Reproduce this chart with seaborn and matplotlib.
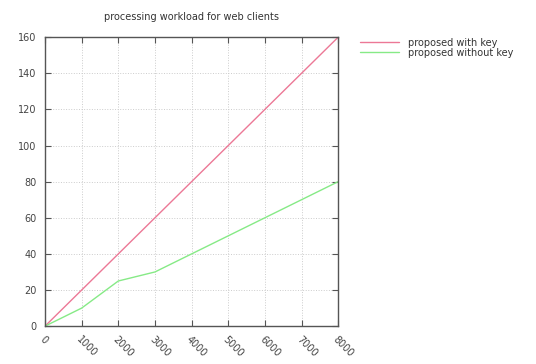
import matplotlib
matplotlib.use("Agg")
import matplotlib.pyplot as plt
import seaborn as sns
import pandas as pd

# Number of web clients vs. processing workload
clients = [0, 1000, 2000, 3000, 4000, 5000, 6000, 7000, 8000]
with_key = [0, 20, 40, 60, 80, 100, 120, 140, 160]
without_key = [0, 10, 25, 30, 40, 50, 60, 70, 80]

series_names = ["proposed with key", "proposed without key"]
x_ticks = [0, 1000, 2000, 3000, 4000, 5000, 6000, 7000, 8000]
y_ticks = [0, 20, 40, 60, 80, 100, 120, 140, 160]

df = pd.concat([
    pd.DataFrame({"clients": clients, "load": with_key, "series": series_names[0]}),
    pd.DataFrame({"clients": clients, "load": without_key, "series": series_names[1]}),
])

sns.set_style("white")
plt.rcParams["font.family"] = ["DejaVu Sans"]

fig = plt.figure(figsize=(5.36, 3.64), dpi=100)
ax = fig.add_axes([0.084, 0.104, 0.547, 0.794])

palette = {series_names[0]: "#ec7896", series_names[1]: "#86ea86"}
sns.lineplot(data=df, x="clients", y="load", hue="series", palette=palette,
             linewidth=1.0, ax=ax, legend=False)

ax.set_xlim(0, 8000)
ax.set_ylim(0, 160)
ax.set_xticks(x_ticks)
ax.set_yticks(y_ticks)
ax.set_xticklabels([str(v) for v in x_ticks], rotation=-45, ha="left",
                   va="top", rotation_mode="anchor", fontsize=7, color="#444444")
ax.set_yticklabels([str(v) for v in y_ticks], fontsize=7, color="#444444")
ax.set_xlabel("")
ax.set_ylabel("")

ax.grid(True, color="#cccccc", linestyle=":", linewidth=0.7)
for s in ax.spines.values():
    s.set_color("#555555")
    s.set_linewidth(1.0)
ax.tick_params(direction="in", length=4, width=0.8, color="#555555",
               top=True, right=True, bottom=True, left=True, pad=6)

ax.set_title("processing workload for web clients", fontsize=7,
             color="#333333", pad=12)

# Legend outside the plot on the right
handles = [plt.Line2D([], [], color=palette[n], linewidth=1.0) for n in series_names]
fig.legend(handles, series_names, loc="upper left", bbox_to_anchor=(0.655, 0.92),
           frameon=False, fontsize=7, handlelength=4.0, labelspacing=0.0,
           handletextpad=1.0, labelcolor="#333333")

fig.savefig("out.png", dpi=100)
